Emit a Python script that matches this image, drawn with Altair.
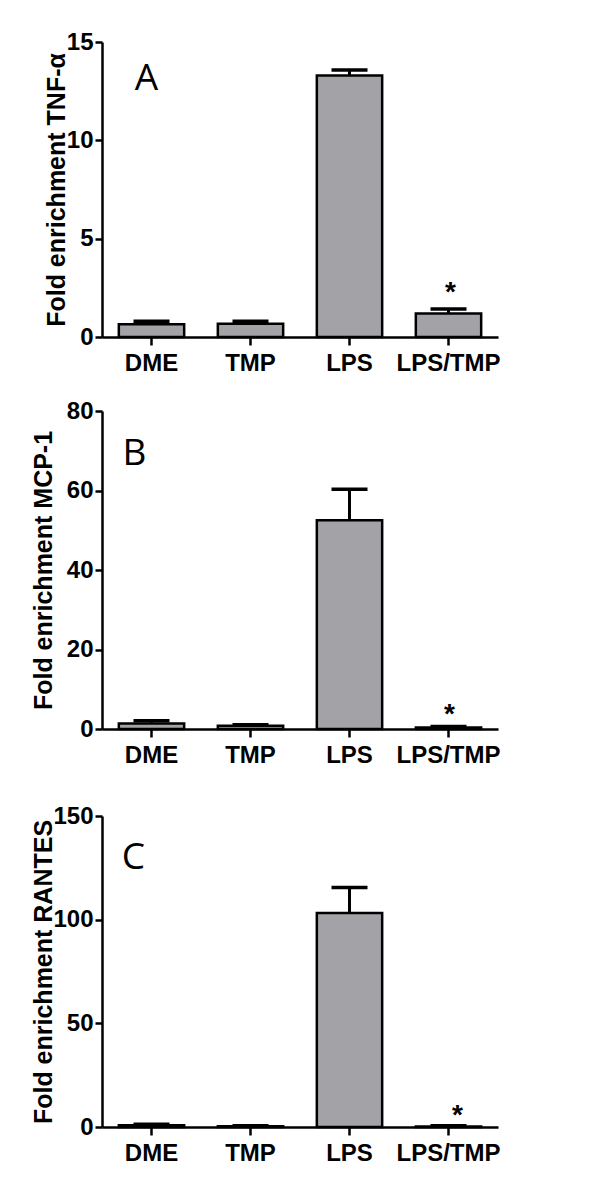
import altair as alt
import pandas as pd

categories = ["DME", "TMP", "LPS", "LPS/TMP"]

tnf_mean = [0.65, 0.68, 13.3, 1.2]
tnf_upper = [0.8, 0.8, 13.58, 1.42]
mcp_mean = [1.4, 0.8, 52.5, 0.4]
mcp_upper = [2.1, 1.1, 60.3, 0.6]
rantes_mean = [0.8, 0.4, 103.2, 0.3]
rantes_upper = [1.3, 0.6, 115.5, 0.6]

panel_letters = ["A", "B", "C"]
y_titles = ["Fold enrichment TNF-α", "Fold enrichment MCP-1", "Fold enrichment RANTES"]
y_max = [15, 80, 150]
y_ticks = [[0, 5, 10, 15], [0, 20, 40, 60, 80], [0, 50, 100, 150]]
star_y = [2.65, 5.5, 9.2]
letter_y = [13.1, 69.2, 129.7]

BAR_FILL = "#A3A3A7"
TEXT_FONT = "Liberation Sans"
TICK_FONT = "Liberation Sans Narrow, Liberation Sans"
W = 396
heights = [295, 318, 311]
title_x = [-38, -51, -51]
letter_dx = [-5, -17, -18]
star_dx = [2, 1, 9]


def panel(i, mean, upper):
    h = heights[i]
    df = pd.DataFrame({"cat": categories, "mean": mean, "upper": upper})

    def X():
        return alt.X(
            "cat:N", sort=categories, title=None,
            scale=alt.Scale(domain=categories, paddingInner=0.34, paddingOuter=0.17),
            axis=alt.Axis(labelAngle=0, tickSize=8, labelPadding=6,
                          labelFont=TICK_FONT, labelFontSize=24, labelFontWeight="bold"),
        )

    def Y(field):
        return alt.Y(
            field, title=y_titles[i],
            scale=alt.Scale(domain=[0, y_max[i]], nice=False, zero=True),
            axis=alt.Axis(values=y_ticks[i], tickSize=7, labelPadding=2, labelFlush=False,
                          labelFont=TICK_FONT, labelFontSize=24, labelFontWeight="bold",
                          titleFont=TEXT_FONT, titleFontSize=25, titleFontWeight="bold",
                          titleX=title_x[i], titleY=h / 2, titleAngle=270,
                          titleAlign="center", titleBaseline="alphabetic"),
        )

    base = alt.Chart(df)
    bars = base.mark_bar(fill=BAR_FILL, stroke="black", strokeWidth=2.5).encode(
        x=X(), y=Y("mean:Q"))
    whisk = base.mark_rule(color="black", strokeWidth=3).encode(
        x=X(), y=Y("mean:Q"), y2="upper:Q")
    cap = base.mark_tick(color="black", thickness=3.5, size=36, opacity=1).encode(
        x=X(), y=Y("upper:Q"))

    star_df = pd.DataFrame({"cat": ["LPS/TMP"], "v": [star_y[i]], "t": ["*"]})
    star = alt.Chart(star_df).mark_text(
        font=TEXT_FONT, fontSize=28, fontWeight="bold", color="black",
        baseline="middle", dx=star_dx[i], dy=8,
    ).encode(x=X(), y=Y("v:Q"), text="t:N")

    let_df = pd.DataFrame({"cat": ["DME"], "v": [letter_y[i]], "t": [panel_letters[i]]})
    letter = alt.Chart(let_df).mark_text(
        font="Open Sans", fontSize=37, fontWeight="normal", color="black",
        baseline="middle", align="center", dx=letter_dx[i],
    ).encode(x=X(), y=Y("v:Q"), text="t:N")

    return alt.layer(bars, whisk, cap, star, letter).properties(width=W, height=h)


pA = panel(0, tnf_mean, tnf_upper)
pB = panel(1, mcp_mean, mcp_upper)
pC = panel(2, rantes_mean, rantes_upper)

chart = alt.vconcat(
    alt.vconcat(pA, pB, spacing=24),
    pC, spacing=37,
).properties(
    padding={"left": 22, "top": 22, "right": 5, "bottom": 5}
).configure_view(stroke=None).configure_axis(
    grid=False, domainColor="black", tickColor="black", labelColor="black",
    titleColor="black", domainWidth=2.5, tickWidth=2.5,
)

chart.save("out.html", embed_options={"renderer": "svg", "actions": False})
